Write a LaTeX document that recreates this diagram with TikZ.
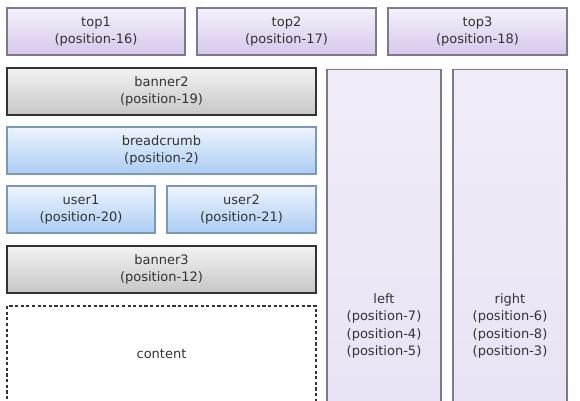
\documentclass[tikz,border=0pt]{standalone}
\usepackage{fontspec}
\setmainfont{DejaVu Sans}
\usetikzlibrary{shadows}
\definecolor{txt}{HTML}{333333}
\definecolor{purpletop}{HTML}{F5F1FB}
\definecolor{purplebot}{HTML}{D6C8EC}
\definecolor{purpleline}{HTML}{7E7A8C}
\definecolor{paletop}{HTML}{F1EDF8}
\definecolor{palebot}{HTML}{E6DDF3}
\definecolor{graytop}{HTML}{F3F3F3}
\definecolor{graybot}{HTML}{C6C6C6}
\definecolor{bluetop}{HTML}{EDF5FE}
\definecolor{bluebot}{HTML}{ABCCF3}
\definecolor{blueline}{HTML}{7C98B8}
\newcommand{\boxfont}{\fontsize{7.4}{10}\selectfont}
\begin{document}
\begin{tikzpicture}[x=0.02cm, y=-0.02cm,
    boxsize/.style 2 args={minimum width=#1*0.02cm, minimum height=#2*0.02cm},
    box/.style={rectangle, align=center, text=txt, font=\boxfont, inner sep=0pt, outer sep=0pt,
        drop shadow={shadow xshift=0.8pt, shadow yshift=-0.8pt, opacity=0.3}},
    purplebox/.style={box, draw=purpleline, line width=0.6pt, top color=purpletop, bottom color=purplebot},
    palebox/.style={box, draw=purpleline, line width=0.7pt, top color=paletop, bottom color=palebot},
    graybox/.style={box, draw=black!80, line width=0.9pt, top color=graytop, bottom color=graybot},
    bluebox/.style={box, draw=blueline, line width=0.6pt, top color=bluetop, bottom color=bluebot},
    dashbox/.style={rectangle, align=center, text=txt, font=\boxfont, draw=black!80, line width=0.6pt,
        dash pattern=on 1.8pt off 1.4pt, fill=white}]
    \useasboundingbox (0,0) rectangle (580,401);
    \clip (0,0) rectangle (580,401);
    % top row
    \node[purplebox, boxsize={178}{47}] (top1) at (96,31.5) {top1\\(position-16)};
    \node[purplebox, boxsize={179}{47}] (top2) at (286.5,31.5) {top2\\(position-17)};
    \node[purplebox, boxsize={179}{47}] (top3) at (477.5,31.5) {top3\\(position-18)};
    % main column
    \node[graybox, boxsize={309}{47}] (banner2) at (161.5,91.5) {banner2\\(position-19)};
    \node[bluebox, boxsize={309}{47}] (breadcrumb) at (161.5,150.5) {breadcrumb\\(position-2)};
    \node[bluebox, boxsize={148}{47}] (user1) at (81,209.5) {user1\\(position-20)};
    \node[bluebox, boxsize={149}{47}] (user2) at (241.5,209.5) {user2\\(position-21)};
    \node[graybox, boxsize={309}{47}] (banner3) at (161.5,269.5) {banner3\\(position-12)};
    \node[dashbox, boxsize={309}{96}] (content) at (161.5,354) {content};
    % side columns
    \node[palebox, boxsize={114}{513}] (left) at (384,326) {left\\(position-7)\\(position-4)\\(position-5)};
    \node[palebox, boxsize={114}{513}] (right) at (510,326) {right\\(position-6)\\(position-8)\\(position-3)};
\end{tikzpicture}
\end{document}
